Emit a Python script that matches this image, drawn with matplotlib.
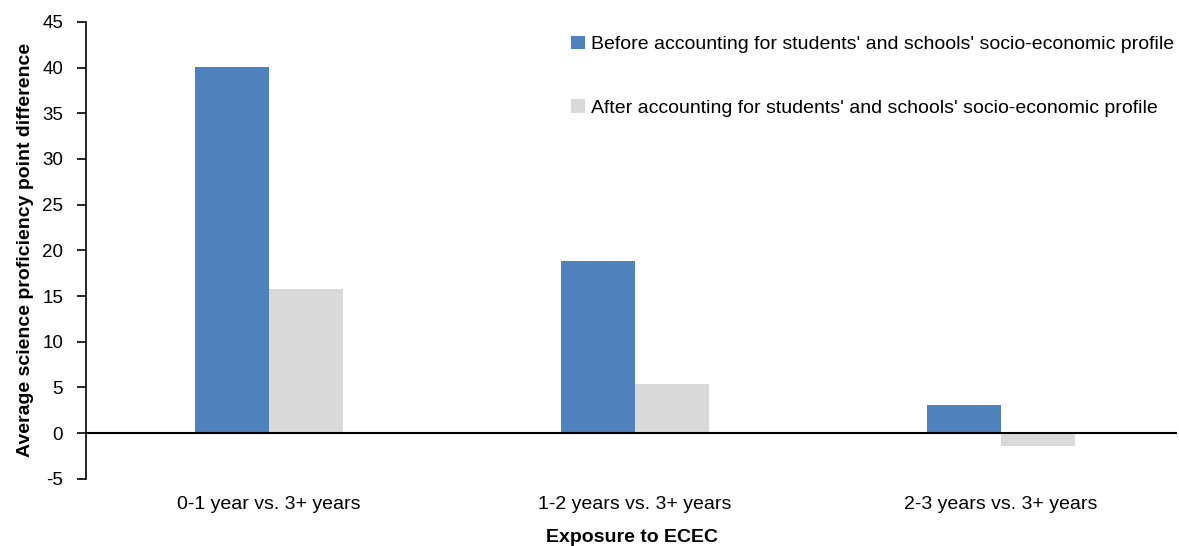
import matplotlib.pyplot as plt
import numpy as np

plt.rcParams['font.family'] = ['Liberation Sans', 'DejaVu Sans']
plt.rcParams['axes.unicode_minus'] = False

categories = ["0-1 year vs. 3+ years", "1-2 years vs. 3+ years", "2-3 years vs. 3+ years"]
before = [40.1, 18.8, 3.1]
after = [15.8, 5.4, -1.4]
series_names = ["Before accounting for students' and schools' socio-economic profile",
                "After accounting for students' and schools' socio-economic profile"]

BLUE = "#4f81bd"
GREY = "#d9d9d9"

fig = plt.figure(figsize=(11.79, 5.46), dpi=100)
ax = fig.add_axes([0.073, 0.123, 0.9254, 0.837])

x = np.arange(len(categories))
w = 0.202
ax.bar(x - w / 2, before, w, color=BLUE, label=series_names[0], zorder=2)
ax.bar(x + w / 2, after, w, color=GREY, label=series_names[1], zorder=2)

ax.axhline(0, color="black", linewidth=1.5, zorder=3)
ax.set_xlim(-0.5, 2.481)
ax.set_ylim(-5, 45)
ax.set_yticks(np.arange(-5, 46, 5))
ax.set_xticks(x)
ax.set_xticklabels(categories)
ax.tick_params(axis="x", length=0, pad=12, labelsize=14)
ax.tick_params(axis="y", direction="out", length=6.5, width=1.2, pad=10, labelsize=13.5)

for s in ["top", "right", "bottom"]:
    ax.spines[s].set_visible(False)
ax.spines["left"].set_linewidth(1.2)

ax.set_ylabel("Average science proficiency point difference", fontsize=14, fontweight="bold", labelpad=6)
ax.set_xlabel("Exposure to ECEC", fontsize=14, fontweight="bold", labelpad=12)

ax.legend(loc="upper right", frameon=False, fontsize=14, handlelength=0.7, handleheight=0.7,
          handletextpad=0.3, labelspacing=2.35, bbox_to_anchor=(1.013, 1.008))

fig.savefig("out.png", dpi=100)
